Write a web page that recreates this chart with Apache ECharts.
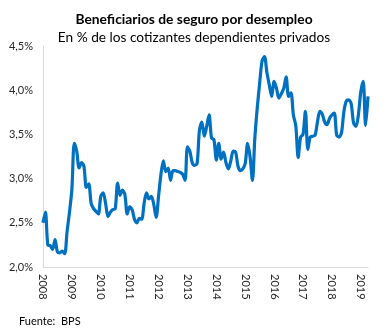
<!DOCTYPE html>
<html><head><meta charset="utf-8">
<script src="https://cdn.jsdelivr.net/npm/echarts@6/dist/echarts.min.js"></script>
<style>html,body{margin:0;padding:0;background:#fff}#c{width:388px;height:332px}</style>
</head><body><div id="c"></div>
<script>
const title = "Beneficiarios de seguro por desempleo";
const subtitle = "En % de los cotizantes dependientes privados";
const source = "Fuente:  BPS";
const years = ["2008","2009","2010","2011","2012","2013","2014","2015","2016","2017","2018","2019"];
const values = [
 2.50,2.62,2.25,2.24,2.20,2.31,2.17,2.16,2.18,2.15,2.40,2.62,
 2.88,3.40,3.31,3.12,3.18,3.14,2.90,2.94,2.72,2.66,2.63,2.60,
 2.80,2.84,2.72,2.57,2.62,2.65,2.66,2.95,2.81,2.87,2.82,2.60,
 2.68,2.65,2.54,2.50,2.55,2.54,2.72,2.84,2.77,2.80,2.71,2.56,
 2.80,3.05,3.20,3.08,3.12,2.98,3.09,3.09,3.08,3.07,3.05,2.98,
 3.36,3.31,3.18,3.15,3.17,3.55,3.64,3.48,3.59,3.72,3.46,3.44,
 3.21,3.40,3.22,3.30,3.18,3.11,3.20,3.31,3.30,3.14,3.09,3.11,
 3.17,3.40,3.25,2.98,3.46,3.80,4.08,4.33,4.38,4.20,4.06,3.93,
 4.10,4.02,3.91,3.96,4.02,4.15,3.93,3.97,3.72,3.60,3.24,3.47,
 3.50,3.76,3.33,3.47,3.48,3.49,3.64,3.76,3.73,3.64,3.61,3.68,
 3.72,3.74,3.49,3.47,3.52,3.76,3.88,3.89,3.85,3.63,3.59,3.72,
 3.98,4.10,3.60,3.93
];
const months = values.map((v,i)=> years[Math.floor(i/12)] + "-" + (i%12+1));
const chart = echarts.init(document.getElementById('c'), null, {renderer:'canvas'});
const FONT = 'Lato';
chart.setOption({
  animation:false,
  title:[
    {text:title,left:'center',top:8,textStyle:{fontFamily:FONT,fontSize:13.8,fontWeight:'bold',color:'#000'}},
    {text:subtitle,left:'center',top:26,textStyle:{fontFamily:FONT,fontSize:13.7,fontWeight:'normal',color:'#000'}},
    {text:source,left:14,top:311,textStyle:{fontFamily:FONT,fontSize:11,fontWeight:'normal',color:'#000'}}
  ],
  grid:{left:43,right:20,top:46,bottom:65},
  xAxis:{type:'category',data:months,boundaryGap:false,
    axisLine:{lineStyle:{color:'#d9d9d9'}},axisTick:{show:false},
    axisLabel:{interval:(i)=>i%12===0,rotate:-90,margin:7,fontFamily:FONT,fontSize:11,color:'#262626',
      formatter:(v)=>v.split('-')[0]}},
  yAxis:{type:'value',min:2,max:4.5,interval:0.5,
    axisLine:{show:true,lineStyle:{color:'#d9d9d9'}},axisTick:{show:false},splitLine:{show:false},
    axisLabel:{margin:10,fontFamily:FONT,fontSize:11,color:'#262626',formatter:(v)=>v.toFixed(1).replace('.',',')+'%'}},
  series:[{type:'line',data:values,showSymbol:false,smooth:0.3,lineStyle:{color:'#0070C0',width:3.2}}]
});
</script></body></html>
